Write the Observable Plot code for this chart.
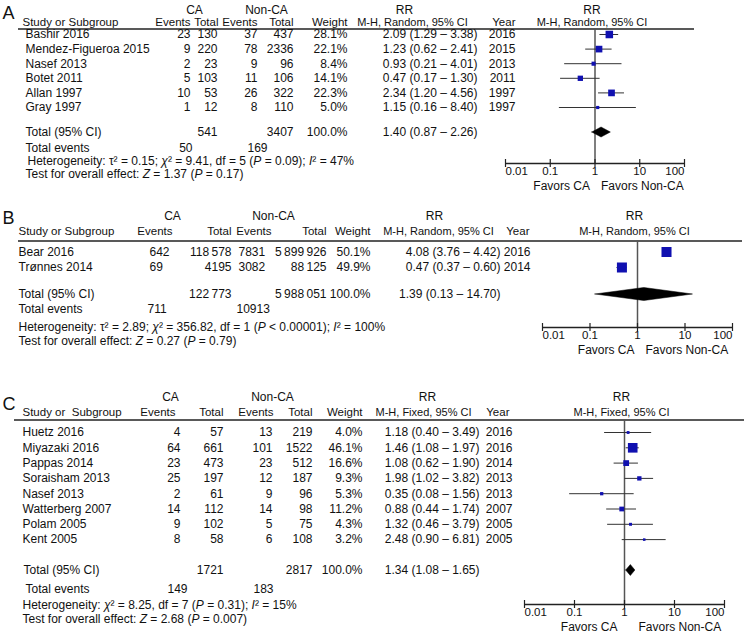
<!DOCTYPE html>
<html><head><meta charset="utf-8">
<script src="https://cdn.jsdelivr.net/npm/d3@7"></script>
<script src="https://cdn.jsdelivr.net/npm/@observablehq/plot@0.6"></script>
<style>
body{margin:0;background:#fff;}
#chart{width:744px;}
#chart svg{display:block;}
</style></head><body><div id="chart"></div>
<script>
// ---------------- DATA ----------------
// Panel A
const studiesA = ["Bashir 2016","Mendez-Figueroa 2015","Nasef 2013","Botet 2011","Allan 1997","Gray 1997"];
const caEventsA = [23, 9, 2, 5, 10, 1];
const caTotalA = [130, 220, 23, 103, 53, 12];
const ncEventsA = [37, 78, 9, 11, 26, 8];
const ncTotalA = [437, 2336, 96, 106, 322, 110];
const weightA = [28.1, 22.1, 8.4, 14.1, 22.3, 5.0];
const rrA = [2.09, 1.23, 0.93, 0.47, 2.34, 1.15];
const loA = [1.29, 0.62, 0.21, 0.17, 1.20, 0.16];
const hiA = [3.38, 2.41, 4.01, 1.30, 4.56, 8.40];
const yearA = [2016, 2015, 2013, 2011, 1997, 1997];
const pooledA = [1.40, 0.87, 2.26];
const sumTotalsA = [541, 3407];
const sumEventsA = [50, 169];
const hetA = "Heterogeneity: τ² = 0.15; χ² = 9.41, df = 5 (P = 0.09); I² = 47%";
const testA = "Test for overall effect: Z = 1.37 (P = 0.17)";

// Panel B
const studiesB = ["Bear 2016","Trønnes 2014"];
const caEventsB = [642, 69];
const caTotalB = [118578, 4195];
const ncEventsB = [7831, 3082];
const ncTotalB = [5899926, 88125];
const weightB = [50.1, 49.9];
const rrB = [4.08, 0.47];
const loB = [3.76, 0.37];
const hiB = [4.42, 0.60];
const yearB = [2016, 2014];
const pooledB = [1.39, 0.13, 14.70];
const sumTotalsB = [122773, 5988051];
const sumEventsB = [711, 10913];
const hetB = "Heterogeneity: τ² = 2.89; χ² = 356.82, df = 1 (P < 0.00001); I² = 100%";
const testB = "Test for overall effect: Z = 0.27 (P = 0.79)";

// Panel C
const studiesC = ["Huetz 2016","Miyazaki 2016","Pappas 2014","Soraisham 2013","Nasef 2013","Watterberg 2007","Polam 2005","Kent 2005"];
const caEventsC = [4, 64, 23, 25, 2, 14, 9, 8];
const caTotalC = [57, 661, 473, 197, 61, 112, 102, 58];
const ncEventsC = [13, 101, 23, 12, 9, 14, 5, 6];
const ncTotalC = [219, 1522, 512, 187, 96, 98, 75, 108];
const weightC = [4.0, 46.1, 16.6, 9.3, 5.3, 11.2, 4.3, 3.2];
const rrC = [1.18, 1.46, 1.08, 1.98, 0.35, 0.88, 1.32, 2.48];
const loC = [0.40, 1.08, 0.62, 1.02, 0.08, 0.44, 0.46, 0.90];
const hiC = [3.49, 1.97, 1.90, 3.82, 1.56, 1.74, 3.79, 6.81];
const yearC = [2016, 2016, 2014, 2013, 2013, 2007, 2005, 2005];
const pooledC = [1.34, 1.08, 1.65];
const sumTotalsC = [1721, 2817];
const sumEventsC = [149, 183];
const hetC = "Heterogeneity: χ² = 8.25, df = 7 (P = 0.31); I² = 15%";
const testC = "Test for overall effect: Z = 2.68 (P = 0.007)";

const axisTicks = [0.01, 0.1, 1, 10, 100];
const totalWeight = 100.0;

// ---------------- LAYOUT ----------------
const LA = {H:195, y0:34, u:14.6, x:[505,684], letterY:13, hdr1:10, hdr2:22, line:28.5,
  totalY:132, eventsY:148, hetY:161, testY:174, axisY:163, favY:185.5, lineX:[18,694], dHalf:5, favDx:[-5,6],
  left:{hdr:22, study:25, total:25, events:25, het:27, test:25},
  hdr:{caEv:190, caTot:218, ncEv:257, ncTot:293, wt:347, yr:515, ca:194, nc:266, rr:404, mh:412},
  cols:{caEv:[190,"end"], caTot:[217,"end"], ncEv:[257,"end"], ncTot:[293,"end"], wt:[347,"end"], rr:[477,"end"], yr:[515,"end"], totEvCa:[192,"end"], totEvNc:[267,"end"]}};
const LB = {H:170, y0:56.5, u:15.5, x:[542,732], letterY:23, hdr1:21, hdr2:36, line:45.5,
  totalY:99, eventsY:114, hetY:132, testY:146, axisY:132, favY:155, lineX:[18,742], dHalf:6.5, favDx:[-3,8],
  left:{hdr:18, study:18, total:18, events:18, het:18, test:18},
  hdr:{caEv:172, caTot:231, ncEv:271, ncTot:326, wt:370, yr:529, ca:172, nc:273, rr:434, mh:438},
  cols:{caEv:[149,"start"], caTot:[231,"end"], ncEv:[238,"start"], ncTot:[326,"end"], wt:[370,"end"], rr:[500,"end"], yr:[530,"end"], totEvCa:[147,"start"], totEvNc:[236,"start"]}};
const LC = {H:268, y0:67, u:15.3, x:[524,724], letterY:39, hdr1:32, hdr2:47, line:54.5,
  totalY:205, eventsY:224, hetY:240, testY:254, axisY:239, favY:262, lineX:[14,744], dHalf:5.5, favDx:[-7,14],
  left:{hdr:22, study:22, total:23, events:25, het:22, test:22},
  hdr:{caEv:175, caTot:223, ncEv:273, ncTot:312, wt:362, yr:509, ca:170, nc:272, rr:427, mh:423},
  cols:{caEv:[180,"end"], caTot:[223,"end"], ncEv:[272,"end"], ncTot:[312,"end"], wt:[362,"end"], rr:[479,"end"], yr:[512,"end"], totEvCa:[187,"end"], totEvNc:[273,"end"]}};

const BLUE = "#1010b0";
const FONT = "'Liberation Sans', Arial, Helvetica, sans-serif";
const f2 = d3.format(".2f");
const fw = d => d3.format(".1f")(d) + "%";
const fmtTot = n => n >= 10000 ? d3.format(",")(n).replace(/,/g, "\u2009") : String(n);
const fmtCI = (r, lo, hi) => `${f2(r)} (${f2(lo)} – ${f2(hi)})`;

function italicize(svg) {
  const NS = "http://www.w3.org/2000/svg";
  svg.querySelectorAll("text").forEach(t => {
    const s = t.textContent;
    if (!/^(Heterogeneity|Test for)/.test(s)) return;
    const parts = s.split(/(\bP\b|\bZ\b|\bI(?=²)|χ)/);
    while (t.firstChild) t.removeChild(t.firstChild);
    parts.forEach(p => {
      if (!p) return;
      const ts = document.createElementNS(NS, "tspan");
      ts.textContent = p;
      if (/^(P|Z|I|χ)$/.test(p)) ts.setAttribute("font-style", "italic");
      t.appendChild(ts);
    });
  });
}

function panel(D, L) {
  const n = D.studies.length;
  const row = px => (px - L.y0) / L.u;
  const at = px => () => row(px);
  const rows = d3.range(n).map(i => ({i, study: D.studies[i], caEv: D.caEvents[i], caTot: D.caTotal[i],
    ncEv: D.ncEvents[i], ncTot: D.ncTotal[i], w: D.weight[i], rr: D.rr[i], lo: D.lo[i], hi: D.hi[i], year: D.year[i]}));
  const fs = 12, hs = 11.5;
  const cell = (data, y, text, pos, extra = {}) =>
    Plot.text(data, {y, text, frameAnchor: "left", dx: pos[0], textAnchor: pos[1], fontSize: fs, fill: "#111", ...extra});
  const label = (str, yPx, pos, extra) => cell([str], at(yPx), d => d, pos, extra);
  const [pr, plo, phi] = D.pooled;
  const h = L.dHalf / L.u;
  const diamond = [
    {x: plo, off: 0},
    {x: pr, off: h},
    {x: phi, off: 0}
  ].map(d => ({x: d.x, y1: row(L.totalY) - d.off, y2: row(L.totalY) + d.off}));
  const axOpts = {tickSize: 0, tickPadding: 3.5, tickFormat: d => String(d), fontSize: 11.5, label: null, fill: "#111"};
  const H2 = {fontSize: hs};

  const svg = Plot.plot({
    width: 744, height: L.H,
    marginLeft: 0, marginRight: 0, marginTop: 0, marginBottom: L.H - L.axisY,
    style: {fontFamily: FONT, fontSize: "12px", color: "#111", background: "white", overflow: "visible"},
    x: {type: "log", domain: [0.01, 100], range: L.x},
    y: {type: "linear", domain: [row(0), row(L.H)], range: [0, L.H], axis: null},
    r: {type: "sqrt", domain: [0, 100], range: [0, 8]},
    marks: [
      // panel letter
      label(D.letter, L.letterY, [2, "start"], {fontSize: 18}),
      // header row 1
      label("CA", L.hdr1, [L.hdr.ca, "middle"]),
      label("Non-CA", L.hdr1, [L.hdr.nc, "middle"]),
      label("RR", L.hdr1, [L.hdr.rr, "middle"]),
      Plot.text(["RR"], {x: () => 1, y: at(L.hdr1), text: d => d, dx: -3, textAnchor: "middle", fontSize: fs, fill: "#111"}),
      // header row 2
      label(D.studyHeader, L.hdr2, [L.left.hdr, "start"], H2),
      label("Events", L.hdr2, [L.hdr.caEv, "end"], H2),
      label("Total", L.hdr2, [L.hdr.caTot, "end"], H2),
      label("Events", L.hdr2, [L.hdr.ncEv, "end"], H2),
      label("Total", L.hdr2, [L.hdr.ncTot, "end"], H2),
      label("Weight", L.hdr2, [L.hdr.wt, "end"], H2),
      label(D.method, L.hdr2, [L.hdr.mh, "middle"], {fontSize: 11}),
      label("Year", L.hdr2, [L.hdr.yr, "end"], H2),
      Plot.text([D.method], {x: () => 1, y: at(L.hdr2), text: d => d, dx: -3, textAnchor: "middle", fontSize: 11, fill: "#111"}),
      // header rule
      Plot.ruleY([row(L.line)], {insetLeft: L.lineX[0], insetRight: 744 - L.lineX[1], stroke: "#222", strokeWidth: 1.5}),
      // study rows
      cell(rows, "i", "study", [L.left.study, "start"]),
      cell(rows, "i", d => String(d.caEv), L.cols.caEv),
      cell(rows, "i", d => fmtTot(d.caTot), L.cols.caTot),
      cell(rows, "i", d => String(d.ncEv), L.cols.ncEv),
      cell(rows, "i", d => fmtTot(d.ncTot), L.cols.ncTot),
      cell(rows, "i", d => fw(d.w), L.cols.wt),
      cell(rows, "i", d => fmtCI(d.rr, d.lo, d.hi), L.cols.rr),
      cell(rows, "i", d => String(d.year), L.cols.yr),
      // totals
      label("Total (95% CI)", L.totalY, [L.left.total, "start"]),
      label(fmtTot(D.sumTotals[0]), L.totalY, L.cols.caTot),
      label(fmtTot(D.sumTotals[1]), L.totalY, L.cols.ncTot),
      label(fw(totalWeight), L.totalY, L.cols.wt),
      label(fmtCI(pr, plo, phi), L.totalY, L.cols.rr),
      label("Total events", L.eventsY, [L.left.events, "start"]),
      label(String(D.sumEvents[0]), L.eventsY, L.cols.totEvCa),
      label(String(D.sumEvents[1]), L.eventsY, L.cols.totEvNc),
      label(D.het, L.hetY, [L.left.het, "start"]),
      label(D.test, L.testY, [L.left.test, "start"]),
      // forest: line of no effect
      Plot.ruleX([1], {y1: at(L.line), y2: at(L.axisY), stroke: "#555", strokeWidth: 1.5}),
      // CIs and squares
      Plot.ruleY(rows, {y: "i", x1: "lo", x2: "hi", stroke: "#333", strokeWidth: 1}),
      Plot.dot(rows, {x: "rr", y: "i", r: "w", symbol: "square", fill: BLUE, stroke: "none"}),
      // pooled diamond
      Plot.areaY(diamond, {x: "x", y1: "y1", y2: "y2", fill: "#000", stroke: "#000", strokeWidth: 0.5}),
      // axis
      Plot.ruleY([row(L.axisY)], {x1: () => 0.01, x2: () => 100, stroke: "#222", strokeWidth: 1.5}),
      Plot.ruleX(axisTicks, {x: d => d, y1: at(L.axisY - 4), y2: at(L.axisY + 4), stroke: "#222", strokeWidth: 1.2}),
      Plot.axisX({...axOpts, ticks: axisTicks.slice(1, -1), textAnchor: "middle"}),
      Plot.axisX({...axOpts, ticks: axisTicks.slice(0, 1), textAnchor: "start"}),
      Plot.axisX({...axOpts, ticks: axisTicks.slice(-1), textAnchor: "end"}),
      Plot.text(["Favors CA"], {x: () => 1, y: at(L.favY), text: d => d, textAnchor: "end", dx: L.favDx[0], fontSize: fs, fill: "#111"}),
      Plot.text(["Favors Non-CA"], {x: () => 1, y: at(L.favY), text: d => d, textAnchor: "start", dx: L.favDx[1], fontSize: fs, fill: "#111"})
    ]
  });
  italicize(svg);
  return svg;
}

const A = {letter: "A", method: "M-H, Random, 95% CI", studyHeader: "Study or Subgroup",
  studies: studiesA, caEvents: caEventsA, caTotal: caTotalA, ncEvents: ncEventsA, ncTotal: ncTotalA,
  weight: weightA, rr: rrA, lo: loA, hi: hiA, year: yearA, pooled: pooledA, sumTotals: sumTotalsA, sumEvents: sumEventsA, het: hetA, test: testA};
const B = {letter: "B", method: "M-H, Random, 95% CI", studyHeader: "Study or Subgroup",
  studies: studiesB, caEvents: caEventsB, caTotal: caTotalB, ncEvents: ncEventsB, ncTotal: ncTotalB,
  weight: weightB, rr: rrB, lo: loB, hi: hiB, year: yearB, pooled: pooledB, sumTotals: sumTotalsB, sumEvents: sumEventsB, het: hetB, test: testB};
const C = {letter: "C", method: "M-H, Fixed, 95% CI", studyHeader: "Study or\u00a0 Subgroup",
  studies: studiesC, caEvents: caEventsC, caTotal: caTotalC, ncEvents: ncEventsC, ncTotal: ncTotalC,
  weight: weightC, rr: rrC, lo: loC, hi: hiC, year: yearC, pooled: pooledC, sumTotals: sumTotalsC, sumEvents: sumEventsC, het: hetC, test: testC};

const root = document.getElementById("chart");
root.append(panel(A, LA), panel(B, LB), panel(C, LC));
</script>
</body></html>
